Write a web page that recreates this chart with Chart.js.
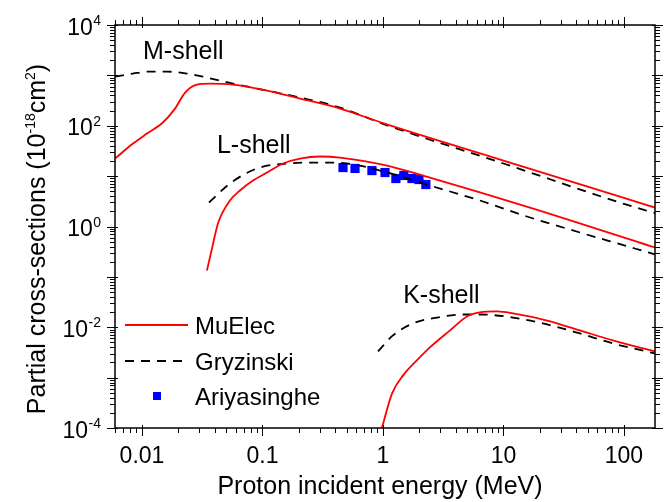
<!DOCTYPE html>
<html lang="en">
<head>
<meta charset="UTF-8">
<title>Partial cross-sections vs proton energy</title>
<style>
  *{margin:0;padding:0;box-sizing:border-box}
  body{background:#fff}
  .wrap{position:relative;width:665px;height:502px}
</style>
</head>
<body>
<div class="wrap"><canvas id="chart"></canvas></div>
<script src="https://cdn.jsdelivr.net/npm/chart.js"></script>
<script>
// axis ranges (MeV, 1e-18 cm^2)
const xMin = 0.00597, xMax = 181;
const yMin = 1e-4, yMax = 1e4;
const xTicks = [0.01, 0.1, 1, 10, 100];
const xTickLabels = ['0.01', '0.1', '1', '10', '100'];
const yTickExps = [-4, -2, 0, 2, 4];

// M-shell
const mMuE_E = [0.00597, 0.00842, 0.0110, 0.0149, 0.0188, 0.0228, 0.0286, 0.0366, 0.0569, 0.109, 0.205, 0.440, 1, 10, 100, 181];
const mMuE_S = [22.3, 44.3, 70, 116, 219, 456, 657, 688, 657, 499, 347, 219, 113, 20.4, 3.69, 2.38];
const mGry_E = [0.00597, 0.00842, 0.01165, 0.0161, 0.0236, 0.0346, 0.0569, 0.109, 0.205, 0.440, 1, 10, 100, 181];
const mGry_S = [946, 1086, 1189, 1189, 1086, 904, 688, 499, 363, 230, 109, 17.8, 2.81, 1.84];

// L-shell
const lMuE_E = [0.0346, 0.0381, 0.0427, 0.0537, 0.065, 0.0834, 0.109, 0.148, 0.205, 0.300, 0.440, 1.08, 2.45, 16.6, 181];
const lMuE_S = [0.134, 0.366, 1.15, 3.28, 5.18, 8.18, 11.8, 17.8, 22.3, 24.5, 23.4, 16.2, 9.38, 2.38, 0.383];
const lGry_E = [0.036, 0.0537, 0.090, 0.160, 0.300, 0.502, 0.945, 2.45, 6.38, 16.6, 43.1, 123, 181];
const lGry_S = [2.99, 7.13, 14.2, 17.8, 18.6, 17.8, 12.9, 6.51, 3.28, 1.51, 0.76, 0.366, 0.278];

// K-shell
const kMuE_E = [0.98, 1.19, 1.47, 1.91, 2.45, 3.60, 4.98, 6.38, 8.84, 12.0, 23.0, 43.1, 81.0, 181];
const kMuE_S = [1.0e-4, 4.86e-4, 1.11e-3, 2.19e-3, 3.97e-3, 8.65e-3, 0.0164, 0.0197, 0.0206, 0.0188, 0.0136, 8.65e-3, 5.47e-3, 3.31e-3];
const kGry_E = [0.909, 1.21, 1.77, 2.81, 4.61, 6.38, 12.0, 23.0, 43.1, 81.0, 181];
const kGry_S = [3.31e-3, 6.88e-3, 0.0119, 0.0156, 0.0179, 0.0179, 0.0156, 0.0114, 7.53e-3, 4.77e-3, 3.02e-3];

// Ariyasinghe measurements (L-shell)
const ariE = [0.466, 0.586, 0.810, 1.04, 1.28, 1.49, 1.74, 1.99, 2.27];
const ariS = [14.8, 14.2, 12.9, 11.8, 8.96, 10.3, 8.96, 8.56, 6.81];
const ariErr = [1.5, 1.4, 1.3, 1.2, 0.9, 1.0, 0.9, 0.9, 0.7];

// shell annotations (left/baseline anchor)
const shellNames = ['M-shell', 'L-shell', 'K-shell'];
const shellE = [0.0102, 0.0419, 1.47];
const shellS = [2154, 29.4, 0.0297];

const FONT = "'Liberation Sans', Arial, sans-serif";
const RED = '#ff0000', BLUE = '#0000ff';

const pts = (E, S) => E.map((e, i) => ({x: e, y: S[i]}));
const lineDs = (label, E, S, color, dash) => ({
  label, data: pts(E, S), showLine: true, fill: false,
  borderColor: color, borderWidth: 1.8, borderDash: dash || [],
  pointRadius: 0, cubicInterpolationMode: 'monotone'
});

const decor = {
  id: 'decor',
  beforeDatasetsDraw(chart) {
    const {ctx, scales: {x, y}} = chart;
    ctx.save();
    ctx.strokeStyle = BLUE; ctx.lineWidth = 1;
    ariE.forEach((e, i) => {
      const px = x.getPixelForValue(e);
      const y1 = y.getPixelForValue(ariS[i] + ariErr[i]);
      const y2 = y.getPixelForValue(ariS[i] - ariErr[i]);
      ctx.beginPath();
      ctx.moveTo(px, y1); ctx.lineTo(px, y2);
      ctx.moveTo(px - 4, y1); ctx.lineTo(px + 4, y1);
      ctx.moveTo(px - 4, y2); ctx.lineTo(px + 4, y2);
      ctx.stroke();
    });
    ctx.restore();
  },
  afterDraw(chart) {
    const {ctx, chartArea: a, scales: {x, y}} = chart;
    ctx.save();
    ctx.strokeStyle = '#000'; ctx.fillStyle = '#000';
    ctx.lineWidth = 1.5;
    ctx.strokeRect(a.left, a.top, a.right - a.left, a.bottom - a.top);

    // ticks
    ctx.lineWidth = 1;
    ctx.beginPath();
    for (let k = -3; k <= 3; k++) {
      for (let m = 1; m <= 9; m++) {
        const v = m * Math.pow(10, k);
        if (v < xMin || v > xMax) continue;
        const p = Math.round(x.getPixelForValue(v)) + 0.5;
        const out = m === 1 ? 8 : 5, inn = m === 1 ? 3 : 0;
        ctx.moveTo(p, a.bottom - inn); ctx.lineTo(p, a.bottom + out);
        ctx.moveTo(p, a.top + inn); ctx.lineTo(p, a.top - out);
      }
    }
    for (let k = -4; k <= 4; k++) {
      for (let m = 1; m <= 9; m++) {
        const v = m * Math.pow(10, k);
        if (v < yMin || v > yMax) continue;
        const p = Math.round(y.getPixelForValue(v)) + 0.5;
        const out = m === 1 ? 8 : 5, inn = m === 1 ? 3 : 0;
        ctx.moveTo(a.left + inn, p); ctx.lineTo(a.left - out, p);
        ctx.moveTo(a.right - inn, p); ctx.lineTo(a.right + out, p);
      }
    }
    ctx.stroke();

    // x tick labels
    ctx.font = '23px ' + FONT;
    ctx.textAlign = 'center'; ctx.textBaseline = 'alphabetic';
    xTicks.forEach((v, i) => ctx.fillText(xTickLabels[i], x.getPixelForValue(v), 463));

    // y tick labels 10^n
    yTickExps.forEach(n => {
      const p = y.getPixelForValue(Math.pow(10, n));
      const exp = n < 0 ? '-' + (-n) : String(n);
      ctx.font = '14px ' + FONT;
      const ew = ctx.measureText(exp).width;
      const ex = 101 - ew;
      ctx.textAlign = 'left';
      ctx.fillText(exp, ex, p + 0);
      ctx.font = '23px ' + FONT;
      ctx.textAlign = 'right';
      ctx.fillText('10', ex - 0.5, p + 9.5);
    });

    // x title
    ctx.font = '25px ' + FONT;
    ctx.textAlign = 'center';
    ctx.fillText('Proton incident energy (MeV)', 380, 494);

    // y title with superscripts
    const parts = [
      ['Partial cross-sections (10', 25, 0], ['-18', 14, -10], ['cm', 25, 0], ['2', 14, -10], [')', 25, 0]
    ];
    let total = 0;
    parts.forEach(p => { ctx.font = p[1] + 'px ' + FONT; p.push(ctx.measureText(p[0]).width); total += p[3]; });
    ctx.translate(45, 239);
    ctx.rotate(-Math.PI / 2);
    ctx.textAlign = 'left';
    let cx = -total / 2;
    parts.forEach(p => { ctx.font = p[1] + 'px ' + FONT; ctx.fillText(p[0], cx, p[2]); cx += p[3]; });
    ctx.setTransform(1, 0, 0, 1, 0, 0);

    // shell labels
    ctx.font = '25px ' + FONT;
    ctx.textAlign = 'left';
    shellNames.forEach((s, i) => ctx.fillText(s, x.getPixelForValue(shellE[i]), y.getPixelForValue(shellS[i])));

    // legend
    ctx.font = '24px ' + FONT;
    const ds = chart.data.datasets;
    const legendItems = [ds[0], ds[1], ds[6]];
    const rows = [325, 361, 396];
    legendItems.forEach((d, i) => {
      const yy = rows[i];
      if (d.showLine) {
        ctx.strokeStyle = d.borderColor; ctx.lineWidth = 1.8;
        ctx.setLineDash(d.borderDash);
        ctx.beginPath(); ctx.moveTo(125, yy); ctx.lineTo(188, yy); ctx.stroke();
        ctx.setLineDash([]);
      } else {
        ctx.fillStyle = d.backgroundColor;
        ctx.fillRect(153, yy - 4, 8, 8);
      }
      ctx.fillStyle = '#000';
      ctx.fillText(d.label, 195, yy + 8.5);
    });
    ctx.restore();
  }
};

new Chart(document.getElementById('chart'), {
  type: 'scatter',
  data: {
    datasets: [
      lineDs('MuElec', mMuE_E, mMuE_S, RED),
      lineDs('Gryzinski', mGry_E, mGry_S, '#000', [9, 7]),
      lineDs('MuElec', lMuE_E, lMuE_S, RED),
      lineDs('Gryzinski', lGry_E, lGry_S, '#000', [9, 7]),
      lineDs('MuElec', kMuE_E, kMuE_S, RED),
      lineDs('Gryzinski', kGry_E, kGry_S, '#000', [9, 7]),
      {label: 'Ariyasinghe', data: pts(ariE, ariS), showLine: false,
       pointStyle: 'rect', pointRadius: 6.5, backgroundColor: BLUE, borderColor: BLUE, borderWidth: 0}
    ]
  },
  options: {
    responsive: true, maintainAspectRatio: false, animation: false,
    layout: {padding: {top: 25, right: 10, left: 0, bottom: 0}},
    plugins: {legend: {display: false}, tooltip: {enabled: false}},
    scales: {
      x: {type: 'logarithmic', min: xMin, max: xMax,
          ticks: {display: false}, grid: {display: false}, border: {display: false},
          afterFit(s) { s.height = 74; }},
      y: {type: 'logarithmic', min: yMin, max: yMax,
          ticks: {display: false}, grid: {display: false}, border: {display: false},
          afterFit(s) { s.width = 115; }}
    }
  },
  plugins: [decor]
});
</script>
</body>
</html>
